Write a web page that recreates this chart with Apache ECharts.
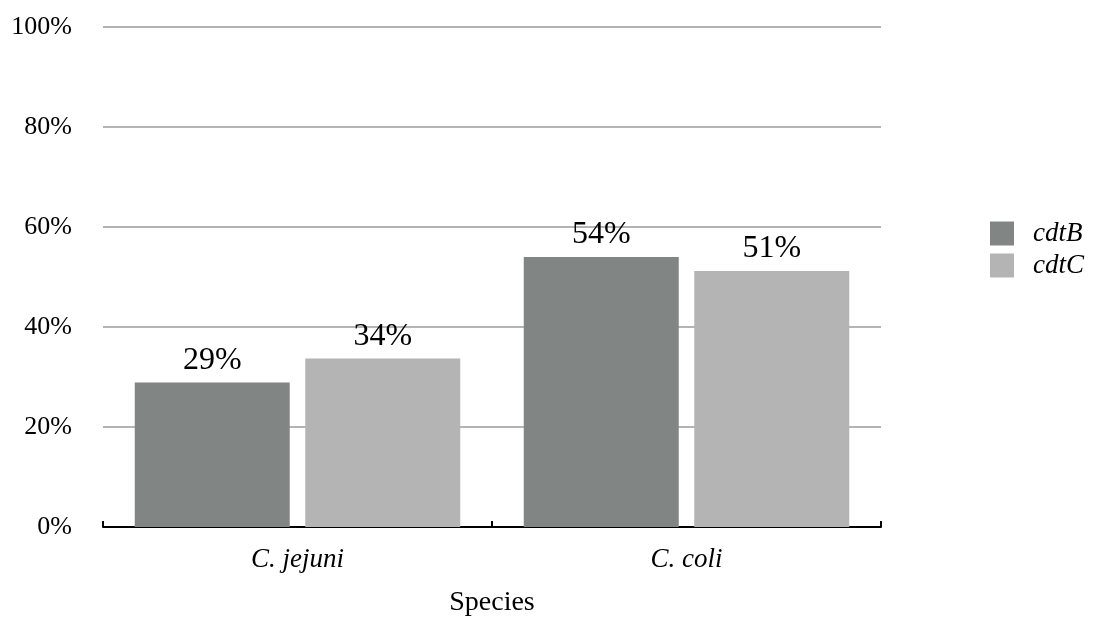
<!DOCTYPE html>
<html>
<head>
<meta charset="utf-8">
<script src="https://cdn.jsdelivr.net/npm/echarts@6/dist/echarts.min.js"></script>
<style>
html,body{margin:0;padding:0;background:#fff;}
#chart{width:1094px;height:622px;}
</style>
</head>
<body>
<div id="chart"></div>
<script>
const categories = ['C. jejuni', 'C. coli'];
const seriesNames = ['cdtB', 'cdtC'];
const cdtB = [28.9, 54.0];
const cdtC = [33.7, 51.2];
const yTicks = [0, 20, 40, 60, 80, 100];
const colors = ['#818684', '#b4b4b4'];

const font = 'Liberation Serif';
const chart = echarts.init(document.getElementById('chart'));
const labelCfg = {
  show: true, position: 'top', distance: 6,
  fontFamily: font, fontSize: 32, color: '#000',
  formatter: p => Math.round(p.value) + '%'
};
chart.setOption({
  animation: false,
  grid: {left: 103, right: 213, top: 27, bottom: 93, containLabel: false},
  legend: {
    orient: 'vertical', left: 990, top: 220, icon: 'rect', padding: 0,
    itemWidth: 24, itemHeight: 24, itemGap: 5,
    data: seriesNames,
    textStyle: {fontFamily: font, fontSize: 27, fontStyle: 'italic', color: '#000', padding: [0, 0, 0, 14]}
  },
  xAxis: {
    type: 'category', data: categories,
    name: 'Species', nameLocation: 'middle', nameGap: 62,
    nameTextStyle: {fontFamily: font, fontSize: 28, color: '#000'},
    axisLine: {lineStyle: {color: '#000', width: 2}},
    axisTick: {show: true, inside: true, length: 6, lineStyle: {color: '#000', width: 2}},
    axisLabel: {fontFamily: font, fontSize: 27, fontStyle: 'italic', color: '#000', margin: 19}
  },
  yAxis: {
    type: 'value', min: yTicks[0], max: yTicks[yTicks.length - 1], interval: 20,
    axisLine: {show: false}, axisTick: {show: false},
    axisLabel: {fontFamily: font, fontSize: 26, color: '#000', margin: 31, formatter: '{value}%'},
    splitLine: {lineStyle: {color: '#b4b4b4', width: 2}}
  },
  series: [
    {name: seriesNames[0], type: 'bar', data: cdtB, barWidth: 155, barGap: '10%',
     itemStyle: {color: colors[0]}, label: labelCfg},
    {name: seriesNames[1], type: 'bar', data: cdtC, barWidth: 155, barGap: '10%',
     itemStyle: {color: colors[1]}, label: labelCfg}
  ]
});
</script>
</body>
</html>
